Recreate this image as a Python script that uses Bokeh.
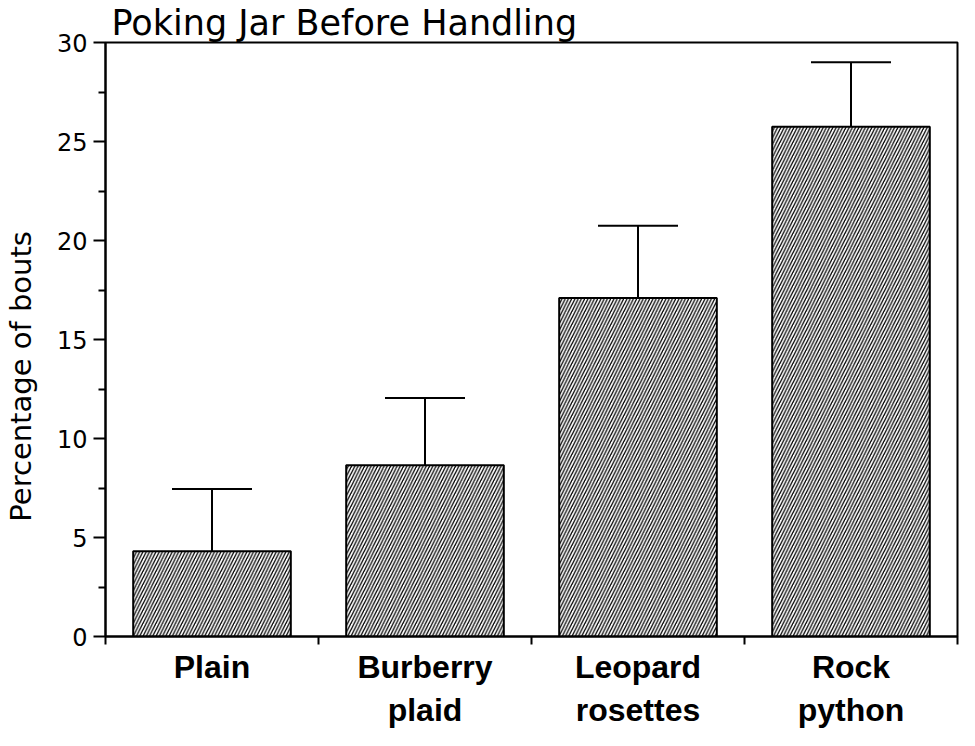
from bokeh.plotting import figure
from bokeh.models import Range1d, FixedTicker, Whisker, TeeHead, ColumnDataSource
from bokeh.embed import file_html
from bokeh.resources import INLINE

# ---- data ----
categories = ["Plain", "Burberry\nplaid", "Leopard\nrosettes", "Rock\npython"]
values = [4.3, 8.65, 17.1, 25.75]
upper = [7.45, 12.05, 20.75, 29.0]
y_ticks = [0, 5, 10, 15, 20, 25, 30]
y_minor = [2.5, 7.5, 12.5, 17.5, 22.5, 27.5]

x_pos = [i + 0.5 for i in range(len(categories))]
boundaries = list(range(len(categories) + 1))

src = ColumnDataSource(dict(x=x_pos, top=values, upper=upper, lower=values))

p = figure(width=959, height=730, output_backend="svg", toolbar_location=None,
           x_range=Range1d(0, len(categories)), y_range=Range1d(0, 30),
           min_border_left=102, min_border_right=2, min_border_top=36, min_border_bottom=90,
           title="Poking Jar Before Handling")

p.title.text_font = "DejaVu Sans"
p.title.text_font_size = "35px"
p.title.text_font_style = "normal"
p.title.text_color = "black"
p.title.offset = 6
p.title.standoff = 0

p.grid.visible = False
p.outline_line_color = "black"
p.outline_line_width = 2
p.background_fill_color = "white"
p.border_fill_color = "white"

p.vbar(x="x", top="top", bottom=0, width=0.74, source=src,
       fill_color="white", line_color="black", line_width=2,
       hatch_pattern="/", hatch_color="black", hatch_scale=6.5, hatch_weight=1.3)

w = Whisker(source=src, base="x", upper="upper", lower="lower", dimension="height",
            line_color="black", line_width=2,
            upper_head=TeeHead(size=80, line_color="black", line_width=2),
            lower_head=None)
p.add_layout(w)

# x axis
xa = p.xaxis[0]
xa.ticker = FixedTicker(ticks=x_pos, minor_ticks=boundaries)
xa.major_label_overrides = {x: c for x, c in zip(x_pos, categories)}
xa.major_tick_line_color = None
xa.minor_tick_line_color = "black"
xa.minor_tick_line_width = 2
xa.minor_tick_out = 8
xa.minor_tick_in = 0
xa.axis_line_width = 2
xa.axis_line_color = "black"
xa.major_label_text_font = "Liberation Sans"
xa.major_label_text_font_style = "bold"
xa.major_label_text_font_size = "32px"
xa.major_label_text_color = "black"
xa.major_label_standoff = 4

# y axis
ya = p.yaxis[0]
ya.ticker = FixedTicker(ticks=y_ticks, minor_ticks=y_minor)
ya.major_tick_line_color = "black"
ya.major_tick_line_width = 2
ya.major_tick_out = 12
ya.major_tick_in = 0
ya.minor_tick_line_color = "black"
ya.minor_tick_line_width = 2
ya.minor_tick_out = 7
ya.minor_tick_in = 0
ya.axis_line_width = 2
ya.axis_line_color = "black"
ya.major_label_text_font = "DejaVu Sans"
ya.major_label_text_font_size = "24px"
ya.major_label_text_color = "black"
ya.major_label_standoff = 6
ya.axis_label = "Percentage of bouts" + "\u00a0" * 8
ya.axis_label_text_font = "DejaVu Sans"
ya.axis_label_text_font_size = "29px"
ya.axis_label_text_font_style = "normal"
ya.axis_label_text_color = "black"
ya.axis_label_standoff = 16

open("out.html", "w").write(file_html(p, INLINE))
